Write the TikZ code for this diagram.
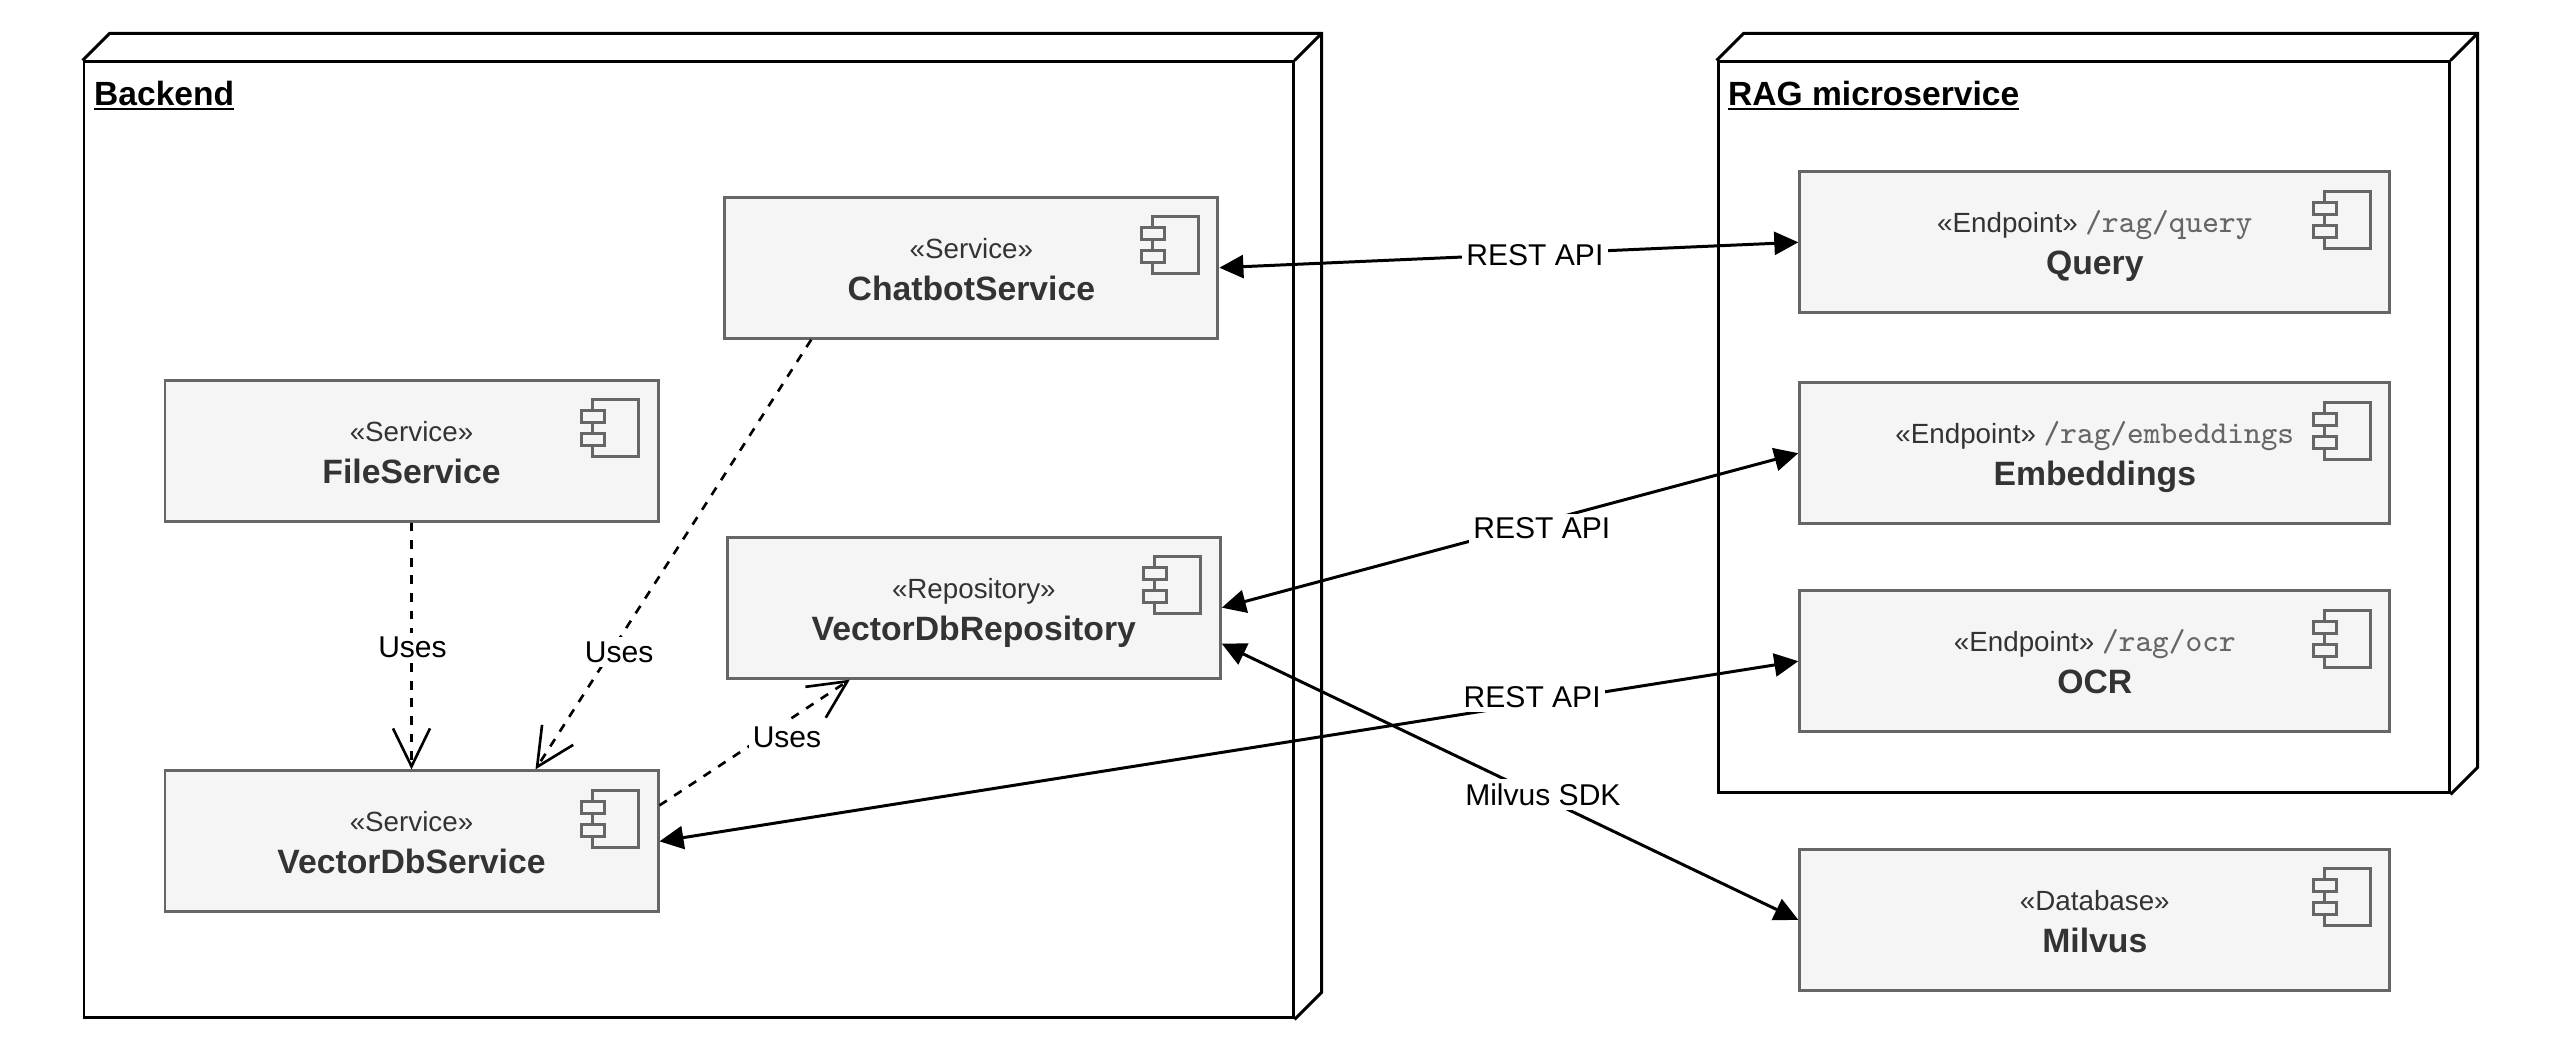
\documentclass[tikz,border=0pt]{standalone}
\usepackage{fontspec}
\setmainfont{Liberation Sans}
\usetikzlibrary{positioning}
\usetikzlibrary{calc}
\usetikzlibrary{arrows.meta}
\definecolor{compfill}{HTML}{F5F5F5}
\definecolor{compline}{HTML}{666666}
\definecolor{comptext}{HTML}{333333}
\definecolor{comppathtext}{HTML}{666666}
\tikzset{
  comp/.style={draw=compline, fill=compfill, line width=0.85pt, text=comptext, minimum width=4.93cm, minimum height=1.41cm, align=center, inner sep=0pt},
  endpoint/.style={comp, minimum width=5.90cm},
  umlnode/.style={draw=black, line width=0.85pt},
  nodetitle/.style={anchor=north west, font=\fontsize{9.55}{11}\selectfont\bfseries, inner sep=0pt},
  edgelabel/.style={fill=white, inner sep=1.2pt, font=\fontsize{8.55}{10}\selectfont},
  rest/.style={line width=0.85pt, {Triangle[length=.24cm,width=.23cm]}-{Triangle[length=.24cm,width=.23cm]}},
  uses/.style={line width=0.75pt, dash pattern=on 2.5pt off 2.5pt, -{Straight Barb[length=.38cm,width=.37cm]}},
  compicon/.pic={
    \draw[draw=compline, line width=0.85pt] (-.46,0) rectangle (0,-.57);
    \draw[draw=compline, fill=compfill, line width=0.85pt] (-.57,-.11) rectangle (-.34,-.23);
    \draw[draw=compline, fill=compfill, line width=0.85pt] (-.57,-.34) rectangle (-.34,-.46);
  }
}
\newcommand{\compstereo}[1]{\fontsize{7.9}{11}\selectfont\rule{0pt}{6.5pt}#1}
\newcommand{\comptitle}[1]{\raisebox{0pt}[7pt][0pt]{\fontsize{9.6}{11}\selectfont\bfseries #1}}
\newcommand{\comppath}[1]{{\fontsize{9.05}{11}\selectfont\ttfamily\color{comppathtext}#1}}
\newcommand{\nodeunder}[1]{\setbox0\hbox{#1}\rlap{\rule[-1.37pt]{\wd0}{0.65pt}}\box0}
\begin{document}
\begin{tikzpicture}
        \useasboundingbox (0,0) rectangle (25.63,10.54);

        % Backend box with its 3D edge
        \node[umlnode, minimum width=12.09cm, minimum height=9.56cm] (backend) at (6.885,5.14) {};
        \draw[umlnode] (backend.north west) -- ++(.27,.27) -- ($(backend.north east)+(.27,.27)$) -- ($(backend.south east)+(.27,.27)$) -- (backend.south east);
        \draw[umlnode] (backend.north east) -- ++(.27,.27);
        \node[nodetitle] (backendtitle) at (.935,9.735) {\nodeunder{Backend}};

        % RAG box with its 3D edge
        \node[umlnode, minimum width=7.31cm, minimum height=7.31cm] (rag) at (20.835,6.265) {};
        \draw[umlnode] (rag.north west) -- ++(.27,.27) -- ($(rag.north east)+(.27,.27)$) -- ($(rag.south east)+(.27,.27)$) -- (rag.south east);
        \draw[umlnode] (rag.north east) -- ++(.27,.27);
        \node[nodetitle] (ragtitle) at (17.275,9.735) {\nodeunder{RAG microservice}};

        % Backend components
        \node[comp] (chatbot) at (9.714,7.863) {\compstereo{«Service»}\\\comptitle{ChatbotService}};
        \node[comp] (file) at (4.115,6.033) {\compstereo{«Service»}\\\comptitle{FileService}};
        \node[comp] (repo) at (9.738,4.463) {\compstereo{«Repository»}\\\comptitle{VectorDbRepository}};
        \node[comp] (vecsvc) at (4.115,2.126) {\compstereo{«Service»}\\\comptitle{VectorDbService}};

        % Endpoints and database
        \node[endpoint] (query) at (20.948,8.117) {\compstereo{«Endpoint» \comppath{/rag/query}}\\\comptitle{Query}};
        \node[endpoint] (embed) at (20.948,6.008) {\compstereo{«Endpoint» \comppath{/rag/embeddings}}\\\comptitle{Embeddings}};
        \node[endpoint] (ocr) at (20.948,3.928) {\compstereo{«Endpoint» \comppath{/rag/ocr}}\\\comptitle{OCR}};
        \node[endpoint] (milvus) at (20.948,1.341) {\compstereo{«Database»}\\\comptitle{Milvus}};

        % Component icons in the top right corners
        \foreach \c in {chatbot,file,repo,vecsvc,query,embed,ocr,milvus}
            \pic at ([xshift=-.21cm,yshift=-.21cm]\c.north east) {compicon};

        % Uses dependencies
        \draw[uses] (file.south) -- node[edgelabel, pos=.505, xshift=.01cm] (usesfile) {Uses} (vecsvc.north);
        \draw[uses] ($(chatbot.south west)!.177!(chatbot.south east)$) -- node[edgelabel, pos=.72, xshift=.065cm, yshift=-.03cm] (useschat) {Uses} ($(vecsvc.north west)!.75!(vecsvc.north east)$);
        \draw[uses] ($(vecsvc.north east)!.25!(vecsvc.south east)$) -- node[edgelabel, pos=.67, yshift=-.16cm] (usesrepo) {Uses} ($(repo.south west)!.25!(repo.south east)$);

        % REST and SDK connections
        \draw[rest] (chatbot.east) -- node[edgelabel, pos=.545, yshift=-.015cm] (restquery) {REST API} (query.west);
        \draw[rest] (repo.east) -- node[edgelabel, pos=.555, yshift=-.065cm] (restembed) {REST API} (embed.west);
        \draw[rest] (vecsvc.east) -- node[edgelabel, pos=.765, xshift=.015cm, yshift=.065cm] (restocr) {REST API} (ocr.west);
        \draw[rest] ($(repo.north east)!.75!(repo.south east)$) -- node[edgelabel, pos=.557, yshift=.03cm] (sdk) {Milvus SDK} (milvus.west);
\end{tikzpicture}
\end{document}
